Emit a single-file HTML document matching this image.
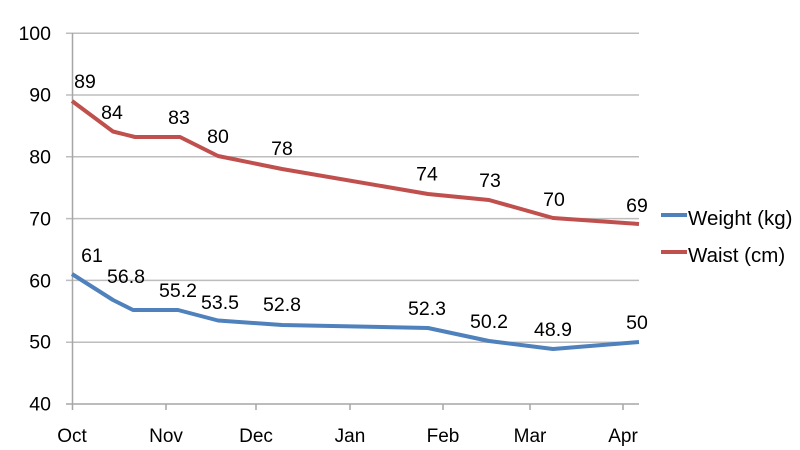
<!DOCTYPE html>
<html>
<head>
<meta charset="utf-8">
<style>
html,body{margin:0;padding:0;background:#fff;}
svg{display:block;}
text{font-family:"Liberation Sans",sans-serif;fill:#000;}
</style>
</head>
<body>
<svg width="800" height="450" viewBox="0 0 800 450" xmlns="http://www.w3.org/2000/svg">
<rect width="800" height="450" fill="#fff"/>
<!-- gridlines -->
<g stroke="#bdbdbd" stroke-width="1.5">
<line x1="66" y1="33.2" x2="639" y2="33.2"/>
<line x1="66" y1="95" x2="639" y2="95"/>
<line x1="66" y1="156.8" x2="639" y2="156.8"/>
<line x1="66" y1="218.6" x2="639" y2="218.6"/>
<line x1="66" y1="280.4" x2="639" y2="280.4"/>
<line x1="66" y1="342.2" x2="639" y2="342.2"/>
</g>
<!-- axes -->
<g stroke="#a6a6a6" stroke-width="1.5">
<line x1="72.5" y1="33" x2="72.5" y2="410"/>
<line x1="66" y1="404" x2="639" y2="404"/>
<line x1="166" y1="404" x2="166" y2="410"/>
<line x1="256" y1="404" x2="256" y2="410"/>
<line x1="350" y1="404" x2="350" y2="410"/>
<line x1="443" y1="404" x2="443" y2="410"/>
<line x1="530" y1="404" x2="530" y2="410"/>
<line x1="623" y1="404" x2="623" y2="410"/>
</g>
<!-- y labels -->
<g font-size="19.5" text-anchor="end">
<text x="51" y="40">100</text>
<text x="51" y="101.5">90</text>
<text x="51" y="163.5">80</text>
<text x="51" y="225.5">70</text>
<text x="51" y="287.5">60</text>
<text x="51" y="348.5">50</text>
<text x="51" y="410.5">40</text>
</g>
<!-- x labels -->
<g font-size="19" text-anchor="middle">
<text x="72" y="442">Oct</text>
<text x="166" y="442">Nov</text>
<text x="256" y="442">Dec</text>
<text x="350" y="442">Jan</text>
<text x="443" y="442">Feb</text>
<text x="530" y="442">Mar</text>
<text x="623" y="442">Apr</text>
</g>
<!-- series -->
<polyline fill="none" stroke="#c0504d" stroke-width="4" stroke-linejoin="round" points="72,101 113,131.5 135,137 180,137 218,156 282,169 428,194 489,200 553,218 639,224"/>
<polyline fill="none" stroke="#4f81bd" stroke-width="4" stroke-linejoin="round" points="72,274 113,300 133,310 178,310 218,320.5 282,325 428,328 489,341 553,349 639,342"/>
<!-- data labels -->
<g font-size="19.5" text-anchor="middle">
<text x="85" y="88">89</text>
<text x="112" y="119">84</text>
<text x="179" y="124">83</text>
<text x="218" y="143">80</text>
<text x="282" y="155">78</text>
<text x="427" y="180.5">74</text>
<text x="490" y="187">73</text>
<text x="554" y="206">70</text>
<text x="637" y="212">69</text>
<text x="92" y="262">61</text>
<text x="126" y="283">56.8</text>
<text x="178" y="297">55.2</text>
<text x="220" y="309">53.5</text>
<text x="282" y="311">52.8</text>
<text x="427" y="315">52.3</text>
<text x="489" y="328">50.2</text>
<text x="553" y="336">48.9</text>
<text x="637" y="329">50</text>
</g>
<!-- legend -->
<line x1="661" y1="215" x2="687" y2="215" stroke="#4f81bd" stroke-width="4"/>
<line x1="661" y1="252" x2="687" y2="252" stroke="#c0504d" stroke-width="4"/>
<g font-size="20.5">
<text x="688" y="225">Weight (kg)</text>
<text x="688" y="262">Waist (cm)</text>
</g>
</svg>
</body>
</html>
